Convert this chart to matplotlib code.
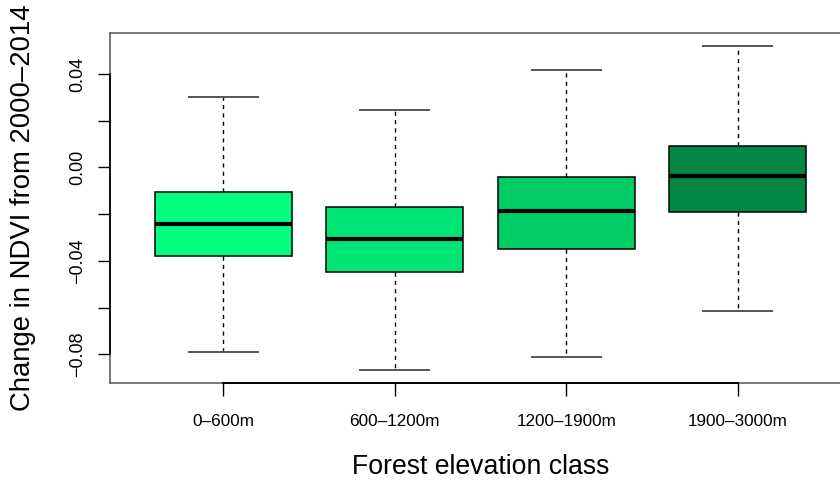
import matplotlib
matplotlib.use("Agg")
import matplotlib.pyplot as plt

# Werte
classes = ["0\u2013600m", "600\u20131200m", "1200\u20131900m", "1900\u20133000m"]
whisk_lo = [-0.0789, -0.0866, -0.0811, -0.0614]
q1 = [-0.0379, -0.0449, -0.0349, -0.0192]
med = [-0.0244, -0.0307, -0.0188, -0.0037]
q3 = [-0.0107, -0.0171, -0.0041, 0.0093]
whisk_hi = [0.0301, 0.0246, 0.0418, 0.0521]
colors = ["#00FF80", "#00E676", "#00CC66", "#008844"]
yticks = [-0.08, -0.04, 0.00, 0.04]

plt.rcParams["font.family"] = ["Liberation Sans", "DejaVu Sans"]

fig = plt.figure(figsize=(8.4, 4.84), dpi=100)
ax = fig.add_axes([110 / 840, 1 - 382.5 / 484, 741 / 840, 349.5 / 484])

stats = []
for i in range(len(classes)):
    stats.append({"whislo": whisk_lo[i], "q1": q1[i], "med": med[i],
                  "q3": q3[i], "whishi": whisk_hi[i], "fliers": []})

pos = list(range(1, len(classes) + 1))
bp = ax.bxp(stats, positions=pos, widths=0.8, patch_artist=True,
            showfliers=False,
            boxprops=dict(edgecolor="black", linewidth=1.1),
            medianprops=dict(color="black", linewidth=3.0, solid_capstyle="butt"),
            whiskerprops=dict(color="black", linewidth=1.0, linestyle=(0, (3, 3))),
            capprops=dict(color="#555555", linewidth=1.4))
for patch, c in zip(bp["boxes"], colors):
    patch.set_facecolor(c)
for cap in bp["caps"]:
    x0, x1 = cap.get_xdata()
    xc = (x0 + x1) / 2
    cap.set_xdata([xc - 0.2, xc + 0.2])

ax.set_xlim(0.34, 4.66)
ax.set_ylim(-0.0921, 0.0576)

# R-artige Achsenlinien: nur vom ersten bis zum letzten Tick schwarz
ax.plot([pos[0], pos[-1]], [0, 0], color="black", linewidth=1.4,
        transform=ax.get_xaxis_transform(), clip_on=False, zorder=5)
ax.plot([0, 0], [yticks[0], yticks[-1]], color="black", linewidth=1.2,
        transform=ax.get_yaxis_transform(), clip_on=False, zorder=5)

ax.set_xticks(pos)
ax.set_xticklabels(classes, fontsize=12.3)
ax.set_yticks(yticks)
ax.set_yticklabels([("%.2f" % v).replace("-", "\u2212") for v in yticks],
                   rotation=90, va="center", fontsize=13,
                   family=["Liberation Sans Narrow", "Liberation Sans"])
ax.set_yticks([-0.06, -0.02, 0.02], minor=True)
ax.tick_params(axis="both", which="both", length=9, width=1.0, color="black")
ax.tick_params(axis="x", pad=14)
ax.tick_params(axis="y", pad=8)
for s in ax.spines.values():
    s.set_color("#555555")
    s.set_linewidth(1.1)

ax.set_xlabel("Forest elevation class", fontsize=19.2)
ax.xaxis.set_label_coords(0.5, (382.5 - 467.5) / 349.5)
ax.xaxis.label.set_va("center")
ax.set_ylabel("Change in NDVI from 2000\u20132014", fontsize=19.8)
ax.yaxis.set_label_coords((23 - 110) / 741, 0.5)
ax.yaxis.label.set_va("center")

fig.savefig("out.png", dpi=100)
